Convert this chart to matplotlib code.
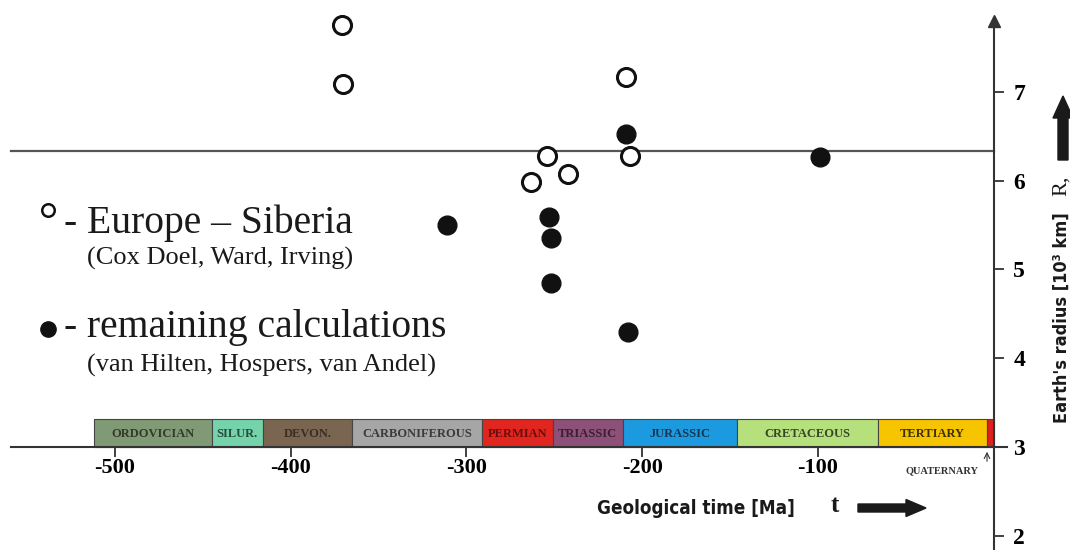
import matplotlib
matplotlib.use('Agg')
import matplotlib.pyplot as plt
from matplotlib.patches import Rectangle, FancyArrow
from matplotlib.transforms import IdentityTransform

# open circles: Europe - Siberia (Cox Doel, Ward, Irving)
europe_t = [-371, -370, -209, -254, -207, -242, -263]
europe_r = [7.76, 7.09, 7.17, 6.28, 6.28, 6.08, 5.99]

# filled circles: remaining calculations
other_t = [-209, -99, -311, -253, -252, -252, -208]
other_r = [6.53, 6.27, 5.50, 5.59, 5.35, 4.85, 4.30]

present_radius = 6.33

periods = ['ORDOVICIAN', 'SILUR.', 'DEVON.', 'CARBONIFEROUS', 'PERMIAN',
           'TRIASSIC', 'JURASSIC', 'CRETACEOUS', 'TERTIARY', '']
period_start = [-512, -445, -416, -365, -291, -251, -211, -146, -66, -4]
period_end = [-445, -416, -365, -291, -251, -211, -146, -66, -4, 0]
period_colors = ['#7f9a74', '#74d3aa', '#7a6650', '#a6a6a6', '#e0261e',
                 '#8d5078', '#1b9ae0', '#b6e07c', '#f7c400', '#e0201c']
period_text = ['#333a2a', '#2a4a3a', '#3a2e22', '#3a3a3a', '#6b0d0d',
               '#3a1f30', '#1a3550', '#35452a', '#3a3000', '#333333']

x_ticks = [-500, -400, -300, -200, -100]
y_ticks = [2, 3, 4, 5, 6, 7]

serif = 'Liberation Serif'
axcol = '#333333'

W, H = 1070, 550
fig = plt.figure(figsize=(W / 100, H / 100), dpi=100)
ax = fig.add_axes([0, 0, 1, 1])
ax.set_xlim(-565.4, 43.4)
ax.set_ylim(1.839, 8.037)


def fx(x):
    return x / W


def fy(y):
    return 1 - y / H


# axes: time axis at R=3, radius axis at t=0
ax.spines['top'].set_visible(False)
ax.spines['left'].set_visible(False)
ax.spines['bottom'].set_position(('data', 3))
ax.spines['bottom'].set_bounds(-559, 7.5)
ax.spines['right'].set_position(('data', 0))
ax.spines['right'].set_bounds(1.839, 7.78)
for s in ['bottom', 'right']:
    ax.spines[s].set_color(axcol)
    ax.spines[s].set_linewidth(1.5)
ax.plot(0, 7.80, marker='^', ms=9, color=axcol, clip_on=False, zorder=5)

ax.set_xticks(x_ticks)
ax.set_xticklabels([str(v) for v in x_ticks], fontfamily=serif,
                   fontweight='bold', fontsize=16)
ax.yaxis.tick_right()
ax.set_yticks(y_ticks)
ax.set_yticklabels([str(v) for v in y_ticks], fontfamily=serif,
                   fontweight='bold', fontsize=17)
ax.tick_params(axis='x', direction='out', length=7, width=1.3, color=axcol, pad=1)
ax.tick_params(axis='y', direction='out', length=7, width=1.3, color=axcol, pad=7)

# present-day radius line
ax.plot([-559, 0], [present_radius, present_radius], color='#555555', lw=1.6, zorder=1)

# geological periods bar
bar_h = 0.315
for name, a, b, c, tc in zip(periods, period_start, period_end, period_colors, period_text):
    ax.add_patch(Rectangle((a, 3), b - a, bar_h, facecolor=c, edgecolor='#444444',
                           lw=0.8, zorder=2))
    if name:
        ax.text((a + b) / 2, 3 + bar_h / 2 - 0.01, name, ha='center', va='center',
                fontfamily=serif, fontweight='bold', fontsize=9, color=tc, zorder=3)

# data points
ax.plot(europe_t, europe_r, 'o', ms=13, mfc='white', mec='#111111', mew=2.2,
        ls='none', zorder=4)
ax.plot(other_t, other_r, 'o', ms=13.5, mfc='#111111', mec='#111111',
        ls='none', zorder=4)

# legend drawn as text
ax.plot([fx(48)], [fy(210)], 'o', ms=9, mfc='white', mec='#111111', mew=1.8,
        transform=fig.transFigure, clip_on=False)
ax.plot([fx(48)], [fy(329)], 'o', ms=11, mfc='#111111', mec='#111111',
        transform=fig.transFigure, clip_on=False)
fig.text(fx(64), fy(233), '- Europe \u2013 Siberia', fontfamily=serif, fontsize=28.5,
         va='baseline', color='#1a1a1a')
fig.text(fx(87), fy(265), '(Cox Doel, Ward, Irving)', fontfamily=serif, fontsize=19,
         va='baseline', color='#1a1a1a')
fig.text(fx(64), fy(337), '- remaining calculations', fontfamily=serif, fontsize=28.5,
         va='baseline', color='#1a1a1a')
fig.text(fx(87), fy(372), '(van Hilten, Hospers, van Andel)', fontfamily=serif,
         fontsize=19, va='baseline', color='#1a1a1a')

# quaternary label
fig.text(fx(942), fy(471), 'QUATERNARY', fontfamily=serif, fontweight='bold',
         fontsize=7.5, ha='center', va='center', color='#333333')
ax.annotate('', xy=(fx(987), fy(449)), xytext=(fx(987), fy(464)),
            xycoords='figure fraction', textcoords='figure fraction',
            arrowprops=dict(arrowstyle='->', lw=0.8, color='#333333'))

# axis titles
fig.text(fx(696), fy(508), 'Geological time [Ma]', fontfamily='DejaVu Sans',
         fontstretch='condensed', fontweight='bold', fontsize=13.5,
         ha='center', va='center', color='#1a1a1a')
fig.text(fx(835), fy(506), 't', fontfamily=serif, fontweight='bold', fontsize=18,
         ha='center', va='center', color='#1a1a1a')
fig.patches.append(FancyArrow(858, H - 508, 48, 0, width=8, head_width=17,
                              head_length=20, length_includes_head=False,
                              color='#1a1a1a', transform=IdentityTransform()))

fig.text(fx(1062), fy(318), "Earth's radius [10\u00b3 km]", fontfamily='DejaVu Sans',
         fontstretch='condensed', fontweight='bold', fontsize=13, rotation=90,
         ha='center', va='center', color='#1a1a1a')
fig.text(fx(1061), fy(186), 'R,', fontfamily=serif, fontsize=16, rotation=90,
         ha='center', va='center', color='#1a1a1a')
fig.patches.append(FancyArrow(1063, H - 160, 0, 42, width=10, head_width=20,
                              head_length=22, length_includes_head=False,
                              color='#1a1a1a', transform=IdentityTransform()))

fig.savefig('out.png', dpi=100)
